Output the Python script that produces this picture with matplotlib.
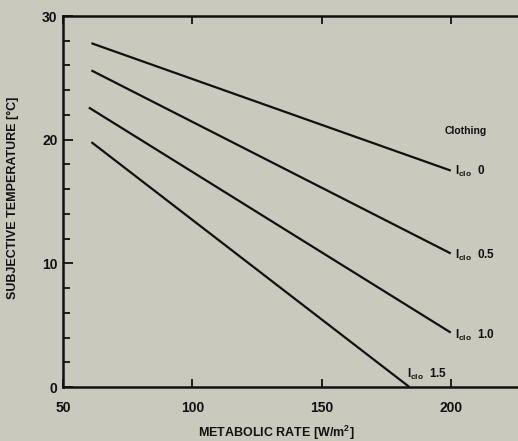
import numpy as np
import matplotlib
matplotlib.use("Agg")
import matplotlib.pyplot as plt
from matplotlib.ticker import MultipleLocator

plt.rcParams['font.family'] = ['Liberation Sans', 'DejaVu Sans']
plt.rcParams['font.weight'] = 'bold'
plt.rcParams['mathtext.fontset'] = 'custom'
plt.rcParams['mathtext.rm'] = 'Liberation Sans:bold'
plt.rcParams['mathtext.it'] = 'Liberation Sans:bold'
plt.rcParams['mathtext.bf'] = 'Liberation Sans:bold'

# subjective temperature vs metabolic rate, one straight line per clothing level
clo_levels = ['0', '0.5', '1.0', '1.5']
rate_start = [61, 61, 60, 61]
rate_end = [200, 200, 200, 184]
temp_start = [27.8, 25.6, 22.6, 19.8]
temp_end = [17.5, 10.8, 4.4, 0.0]

bg = '#c9c9bd'
ink = '#111111'
fig = plt.figure(figsize=(5.18, 4.41), dpi=100, facecolor=bg)
ax = fig.add_axes([0.1216, 0.1224, 0.8784, 0.8413], facecolor=bg)

for x0, x1, y0, y1 in zip(rate_start, rate_end, temp_start, temp_end):
    ax.plot([x0, x1], [y0, y1], color=ink, lw=1.6, solid_capstyle='butt')

ax.set_xlim(50, 226)
ax.set_ylim(0, 30)

ax.spines['right'].set_visible(False)
for s in ['left', 'bottom', 'top']:
    ax.spines[s].set_linewidth(1.8)
    ax.spines[s].set_color(ink)

ax.set_xticks([50, 100, 150, 200])
ax.set_yticks([0, 10, 20, 30])
ax.yaxis.set_minor_locator(MultipleLocator(2))
ax.tick_params(axis='both', which='both', direction='in', color=ink,
               width=1.3, labelsize=10, labelcolor=ink)
ax.tick_params(axis='x', which='major', top=True, length=6, pad=10)
ax.tick_params(axis='y', which='major', length=7, pad=4)
ax.tick_params(axis='y', which='minor', length=5)
for lbl in ax.get_yticklabels():
    lbl.set_verticalalignment('center_baseline')

ax.set_ylabel('SUBJECTIVE TEMPERATURE [°C]', fontsize=9, fontweight='bold', color=ink)
ax.set_xlabel('METABOLIC RATE [W/m$^2$]', fontsize=9, fontweight='bold', color=ink)
ax.yaxis.set_label_coords(-0.097, 0.51)
ax.xaxis.set_label_coords(0.468, -0.1)

ax.text(205.6, 20.7, 'Clothing', fontsize=7.5, fontweight='bold', ha='center', va='center',
        color=ink)
label_pos = [(201.5, 17.4), (201.5, 10.6), (201.5, 4.2), (183, 1.0)]
for lev, (lx, ly) in zip(clo_levels, label_pos):
    ax.text(lx, ly, r'$\mathregular{I_{clo}}$  ' + lev, fontsize=8.5, fontweight='bold',
            ha='left', va='center', color=ink)

fig.savefig('out.png', dpi=100, facecolor=bg)
